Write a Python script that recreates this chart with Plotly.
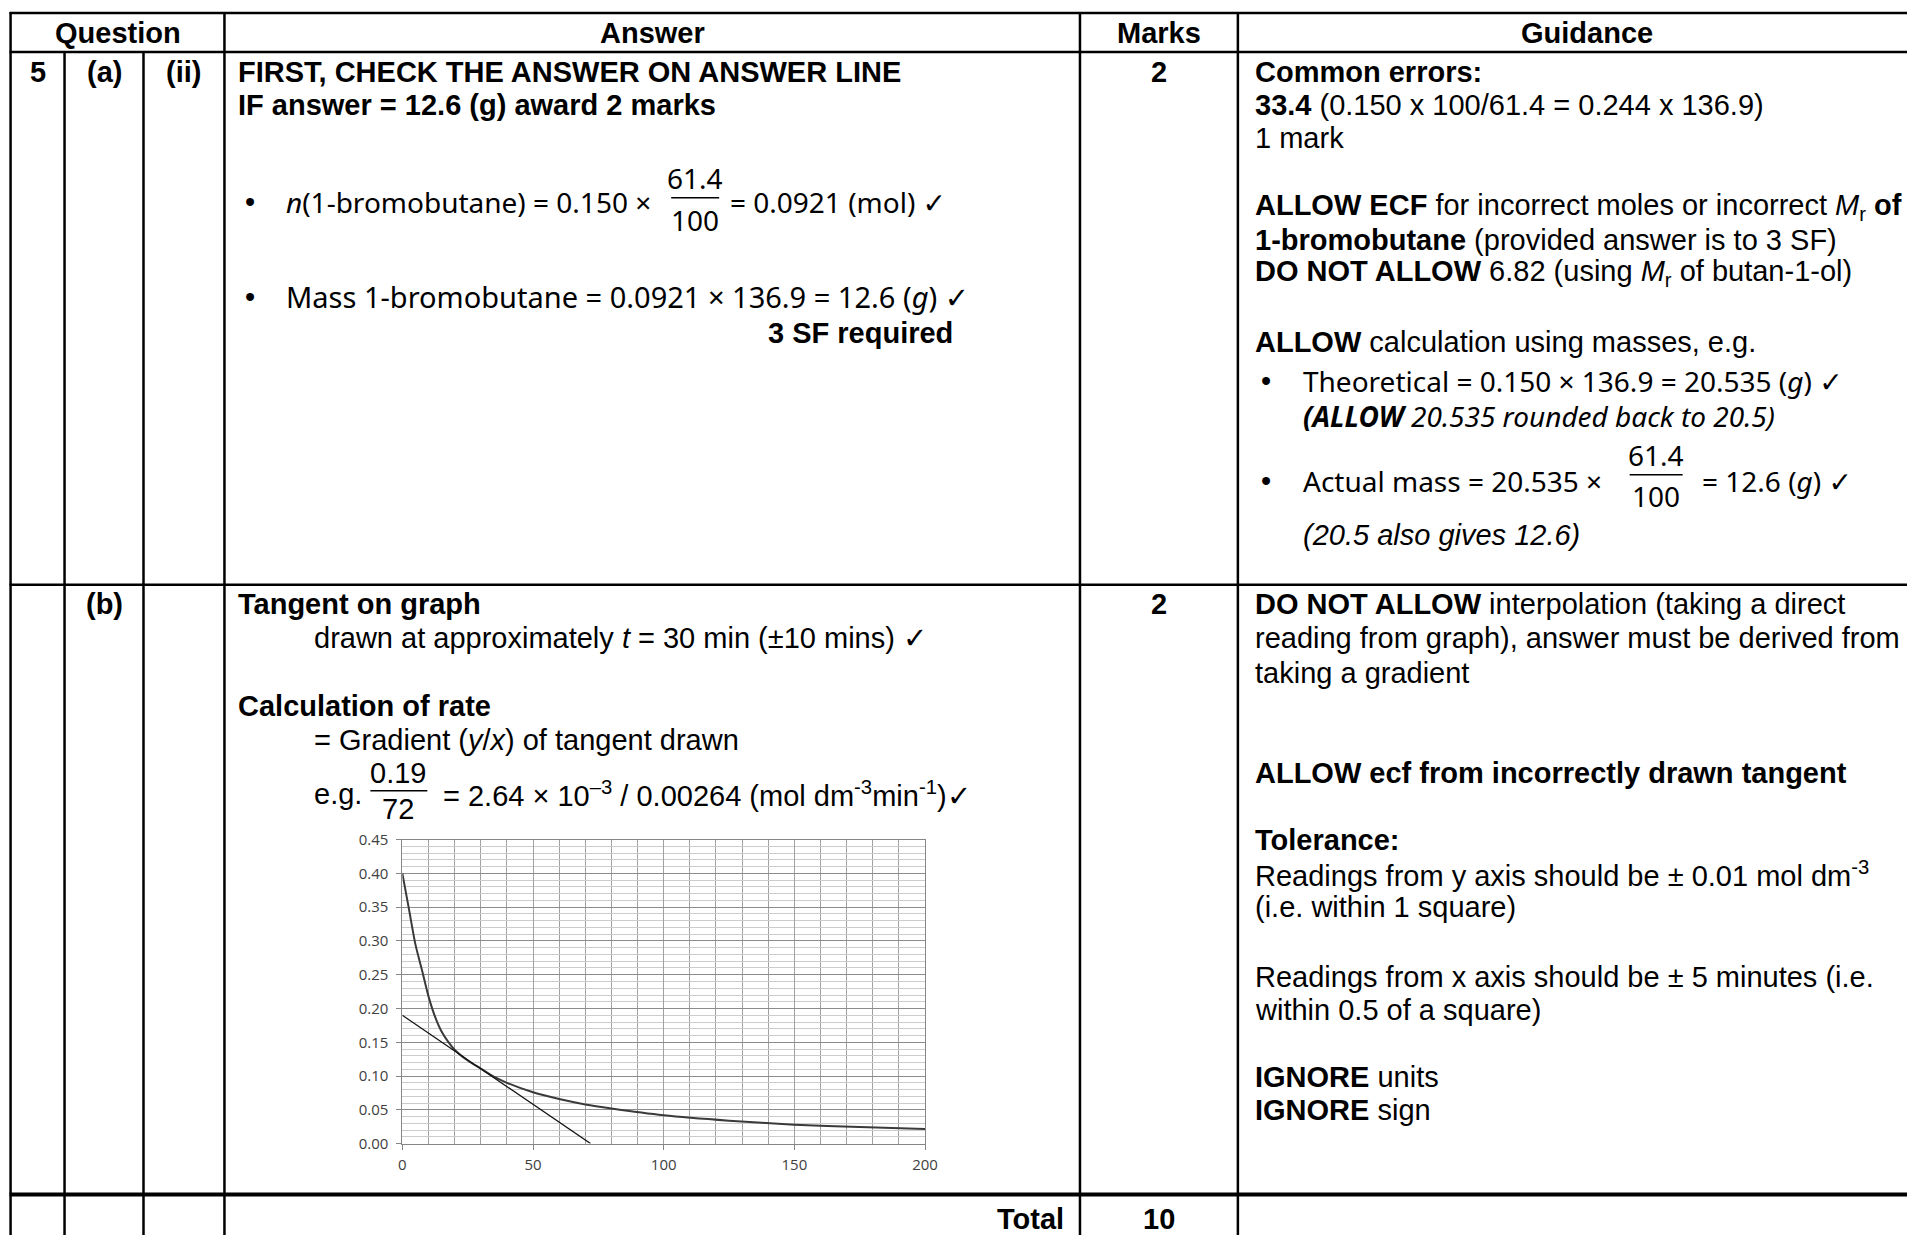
import plotly.graph_objects as go

# ---------------- data ----------------
time_min = [0, 2.5, 5, 7.5, 10, 12.5, 15, 17.5, 20, 25, 30, 35, 40, 50, 60, 70, 80,
            100, 125, 150, 175, 200]
conc = [0.400, 0.348, 0.295, 0.257, 0.218, 0.188, 0.166, 0.151, 0.139, 0.123, 0.111,
        0.099, 0.090, 0.076, 0.066, 0.058, 0.052, 0.042, 0.034, 0.028, 0.0245, 0.0215]
tangent_time = [0, 72]
tangent_conc = [0.19, 0.0]
x_tick_vals = [0, 50, 100, 150, 200]
y_tick_vals = [0.00, 0.05, 0.10, 0.15, 0.20, 0.25, 0.30, 0.35, 0.40, 0.45]
y_tick_text = ["0.00", "0.05", "0.10", "0.15", "0.20", "0.25", "0.30", "0.35", "0.40", "0.45"]

OFF = 8
W, H = 1915 - 2 * OFF, 1243 - 2 * OFF
ARIAL = "Arial, Liberation Sans, sans-serif"
COMIC = "Noto Sans, DejaVu Sans, sans-serif"
FS = 29

# empirical correction so that page positions land where intended
SX, DX = 0.9916, 3.5
SY, DY = 0.984, 10.2


def px(x):
    return ((x - DX) / SX - OFF) / W


def py(y):
    return 1 - ((y - DY) / SY - OFF) / H


fig = go.Figure()
fig.add_trace(go.Scatter(x=time_min, y=conc, mode="lines",
                         line=dict(color="#3a3a3a", width=2, shape="spline", smoothing=0.7),
                         hoverinfo="skip", showlegend=False))
fig.add_trace(go.Scatter(x=tangent_time, y=tangent_conc, mode="lines",
                         line=dict(color="#111111", width=1.2),
                         hoverinfo="skip", showlegend=False))

annotations = []


def txt(x, y, s, anchor="left", size=FS, font=ARIAL, color="black"):
    annotations.append(dict(x=px(x), y=py(y), xref="paper", yref="paper", text=s,
                            showarrow=False, xanchor=anchor, yanchor="middle",
                            font=dict(family=font, size=size, color=color),
                            borderpad=0))


# header
txt(117, 32, "<b>Question</b>", "center")
txt(652, 32, "<b>Answer</b>", "center")
txt(1159, 32, "<b>Marks</b>", "center")
txt(1587, 32, "<b>Guidance</b>", "center")

# row (a)(ii)
txt(37, 71, "<b>5</b>", "center")
txt(104, 71, "<b>(a)</b>", "center")
txt(183, 71, "<b>(ii)</b>", "center")
txt(237, 71, "<b>FIRST, CHECK THE ANSWER ON ANSWER LINE</b>")
txt(237, 104, "<b>IF answer = 12.6 (g) award 2 marks</b>")
txt(244, 201, "•")
txt(285, 201, "<i>n</i>(1-bromobutane) = 0.150 ×", size=28, font=COMIC)
txt(695, 177, "61.4", "center", size=28, font=COMIC)
txt(695, 219, "100", "center", size=28, font=COMIC)
txt(729, 201, "= 0.0921 (mol) ✓", size=28, font=COMIC)
txt(244, 296, "•")
txt(285, 296, "Mass 1-bromobutane = 0.0921 × 136.9 = 12.6 (<i>g</i>) ✓", font=COMIC)
txt(954, 332, "<b>3 SF required</b>", "right")
txt(1159, 71, "<b>2</b>", "center")

gx = 1254
txt(gx, 71, "<b>Common errors:</b>")
txt(gx, 104, "<b>33.4</b> (0.150 x 100/61.4 = 0.244 x 136.9)")
txt(gx, 137, "1 mark")
txt(gx, 206, "<b>ALLOW ECF</b> for incorrect moles or incorrect <i>M</i><sub>r</sub> <b>of</b>")
txt(gx, 239, "<b>1-bromobutane</b> (provided answer is to 3 SF)")
txt(gx, 272, "<b>DO NOT ALLOW</b> 6.82 (using <i>M</i><sub>r</sub> of butan-1-ol)")
txt(gx, 341, "<b>ALLOW</b> calculation using masses, e.g.")
txt(1260, 380, "•")
txt(1302, 380, "Theoretical = 0.150 × 136.9 = 20.535 (<i>g</i>) ✓", size=28, font=COMIC)
txt(1302, 415, "<i><b>(ALLOW</b> 20.535 rounded back to 20.5)</i>", size=28, font=COMIC)
txt(1260, 480, "•")
txt(1302, 480, "Actual mass = 20.535 ×", size=28, font=COMIC)
txt(1656, 454, "61.4", "center", size=28, font=COMIC)
txt(1656, 495, "100", "center", size=28, font=COMIC)
txt(1701, 480, "= 12.6 (<i>g</i>) ✓", size=28, font=COMIC)
txt(1302, 534, "<i>(20.5 also gives 12.6)</i>")

# row (b)
txt(104, 603, "<b>(b)</b>", "center")
txt(237, 603, "<b>Tangent on graph</b>")
txt(313, 637, "drawn at approximately <i>t</i> = 30 min (±10 mins) ✓")
txt(237, 705, "<b>Calculation of rate</b>")
txt(313, 739, "= Gradient (<i>y</i>/<i>x</i>) of tangent drawn")
txt(313, 793, "e.g.")
txt(398, 772, "0.19", "center")
txt(398, 808, "72", "center")
txt(442, 793, "= 2.64 × 10<sup>–3</sup> / 0.00264 (mol dm<sup>-3</sup>min<sup>-1</sup>)✓")
txt(1159, 603, "<b>2</b>", "center")

txt(gx, 603, "<b>DO NOT ALLOW</b> interpolation (taking a direct")
txt(gx, 637, "reading from graph), answer must be derived from")
txt(gx, 672, "taking a gradient")
txt(gx, 772, "<b>ALLOW ecf from incorrectly drawn tangent</b>")
txt(gx, 839, "<b>Tolerance:</b>")
txt(gx, 873, "Readings from y axis should be ± 0.01 mol dm<sup>-3</sup>")
txt(gx, 906, "(i.e. within 1 square)")
txt(gx, 976, "Readings from x axis should be ± 5 minutes (i.e.")
txt(gx, 1009, "within 0.5 of a square)")
txt(gx, 1076, "<b>IGNORE</b> units")
txt(gx, 1109, "<b>IGNORE</b> sign")

# total row
txt(1065, 1218, "<b>Total</b>", "right")
txt(1159, 1218, "<b>10</b>", "center")

# ---------------- table rules ----------------
shapes = []


def hline(y, x0, x1, w=2.5):
    shapes.append(dict(type="line", xref="paper", yref="paper", x0=px(x0), x1=px(x1),
                       y0=py(y), y1=py(y), line=dict(color="black", width=w)))


def vline(x, y0, y1, w=2.5):
    shapes.append(dict(type="line", xref="paper", yref="paper", x0=px(x), x1=px(x),
                       y0=py(y0), y1=py(y1), line=dict(color="black", width=w)))


hline(12, 9, 1940)
hline(51, 9, 1940)
hline(584, 9, 1940)
hline(1194, 9, 1940, 4)
vline(10, 11, 1270)
vline(64, 51, 1270)
vline(143, 51, 1270)
vline(224, 11, 1270)
vline(1080, 11, 1270)
vline(1238, 11, 1270)

# fraction bars
hline(197, 671, 719, 1.5)
hline(474, 1630, 1683, 1.5)
hline(790, 370, 427, 1.5)

tick_font = dict(family="Open Sans, sans-serif", size=15, color="#404040")
fig.update_layout(
    width=W, height=H,
    margin=dict(l=0, r=0, t=0, b=0),
    paper_bgcolor="white", plot_bgcolor="white",
    annotations=annotations, shapes=shapes,
    showlegend=False,
    xaxis=dict(domain=[px(402), px(925)], range=[0, 200], tickvals=x_tick_vals,
               showgrid=True, gridcolor="#a0a0a0", gridwidth=1,
               minor=dict(dtick=10, tick0=0, showgrid=True, gridcolor="#a0a0a0", gridwidth=1),
               showline=True, linecolor="#868686", linewidth=1, mirror=True,
               ticks="outside", ticklen=5, tickcolor="#868686", ticklabelstandoff=2,
               tickfont=tick_font, zeroline=False, fixedrange=True),
    yaxis=dict(domain=[py(1143), py(839)], range=[0, 0.45], tickvals=y_tick_vals,
               ticktext=y_tick_text,
               showgrid=True, gridcolor="#8c8c8c", gridwidth=1,
               minor=dict(dtick=0.01, tick0=0, showgrid=True, gridcolor="#cccccc", gridwidth=1),
               showline=True, linecolor="#868686", linewidth=1, mirror=True,
               ticks="outside", ticklen=5, tickcolor="#868686", ticklabelstandoff=5,
               tickfont=tick_font, zeroline=False, fixedrange=True),
)

fig.write_html("out.html")
